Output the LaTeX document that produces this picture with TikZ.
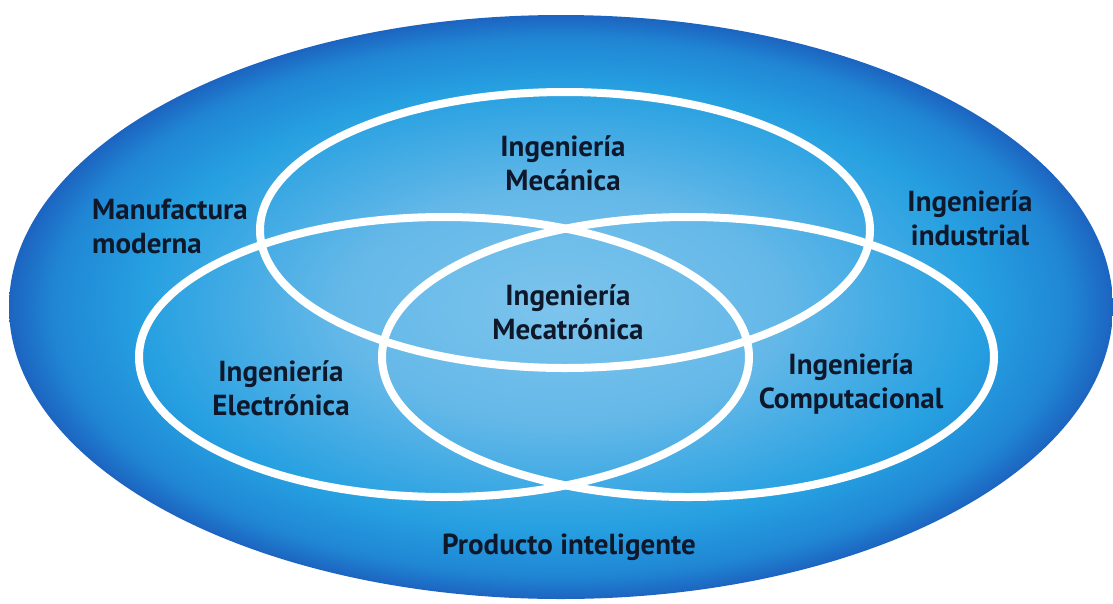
\documentclass[tikz,border=0pt]{standalone}
\usepackage{fontspec}
\setmainfont{PT Sans}
\definecolor{bluelight}{RGB}{124,196,237}
\definecolor{bluesoft}{RGB}{100,184,232}
\definecolor{bluemid}{RGB}{38,160,225}
\definecolor{bluedeep}{RGB}{32,134,212}
\definecolor{bluerim}{RGB}{28,100,192}
\definecolor{labelink}{RGB}{14,24,42}
\pgfdeclareradialshading{bluedisc}{\pgfpoint{0bp}{0bp}}{color(0bp)=(bluelight); color(10bp)=(bluesoft); color(19bp)=(bluemid); color(23bp)=(bluedeep); color(25bp)=(bluerim); color(50bp)=(bluerim)}
\tikzset{
    ring/.style={draw=white, line width=8pt},
    area/.style={font=\bfseries\fontsize{29}{34}\selectfont, text=labelink, align=center, inner sep=0pt}
}
\begin{document}
\begin{tikzpicture}[x=1pt, y=-1pt]
        \useasboundingbox (0,0) rectangle (1113,603);
        \shade[shading=bluedisc] (561,307) ellipse [x radius=552pt, y radius=292pt];
        \foreach \cx/\cy/\rx/\ry in {565/230/305/138, 444/357/305/140, 688/357/306/140} {
            \draw[ring] (\cx,\cy) ellipse [x radius=\rx pt, y radius=\ry pt];
        }
        \node[area] (mecanica) at (563,163) {Ingeniería\\Mecánica};
        \node[area] (mecatronica) at (568,312) {Ingeniería\\Mecatrónica};
        \node[area] (electronica) at (281,388) {Ingeniería\\Electrónica};
        \node[area] (computacional) at (851,384) {Ingeniería\\Computacional};
        \node[area, align=left, anchor=west] (manufactura) at (92,226) {Manufactura\\moderna};
        \node[area] (industrial) at (970,218) {Ingeniería\\industrial};
        \node[area] (producto) at (569,547) {Producto inteligente};
    \end{tikzpicture}
\end{document}
